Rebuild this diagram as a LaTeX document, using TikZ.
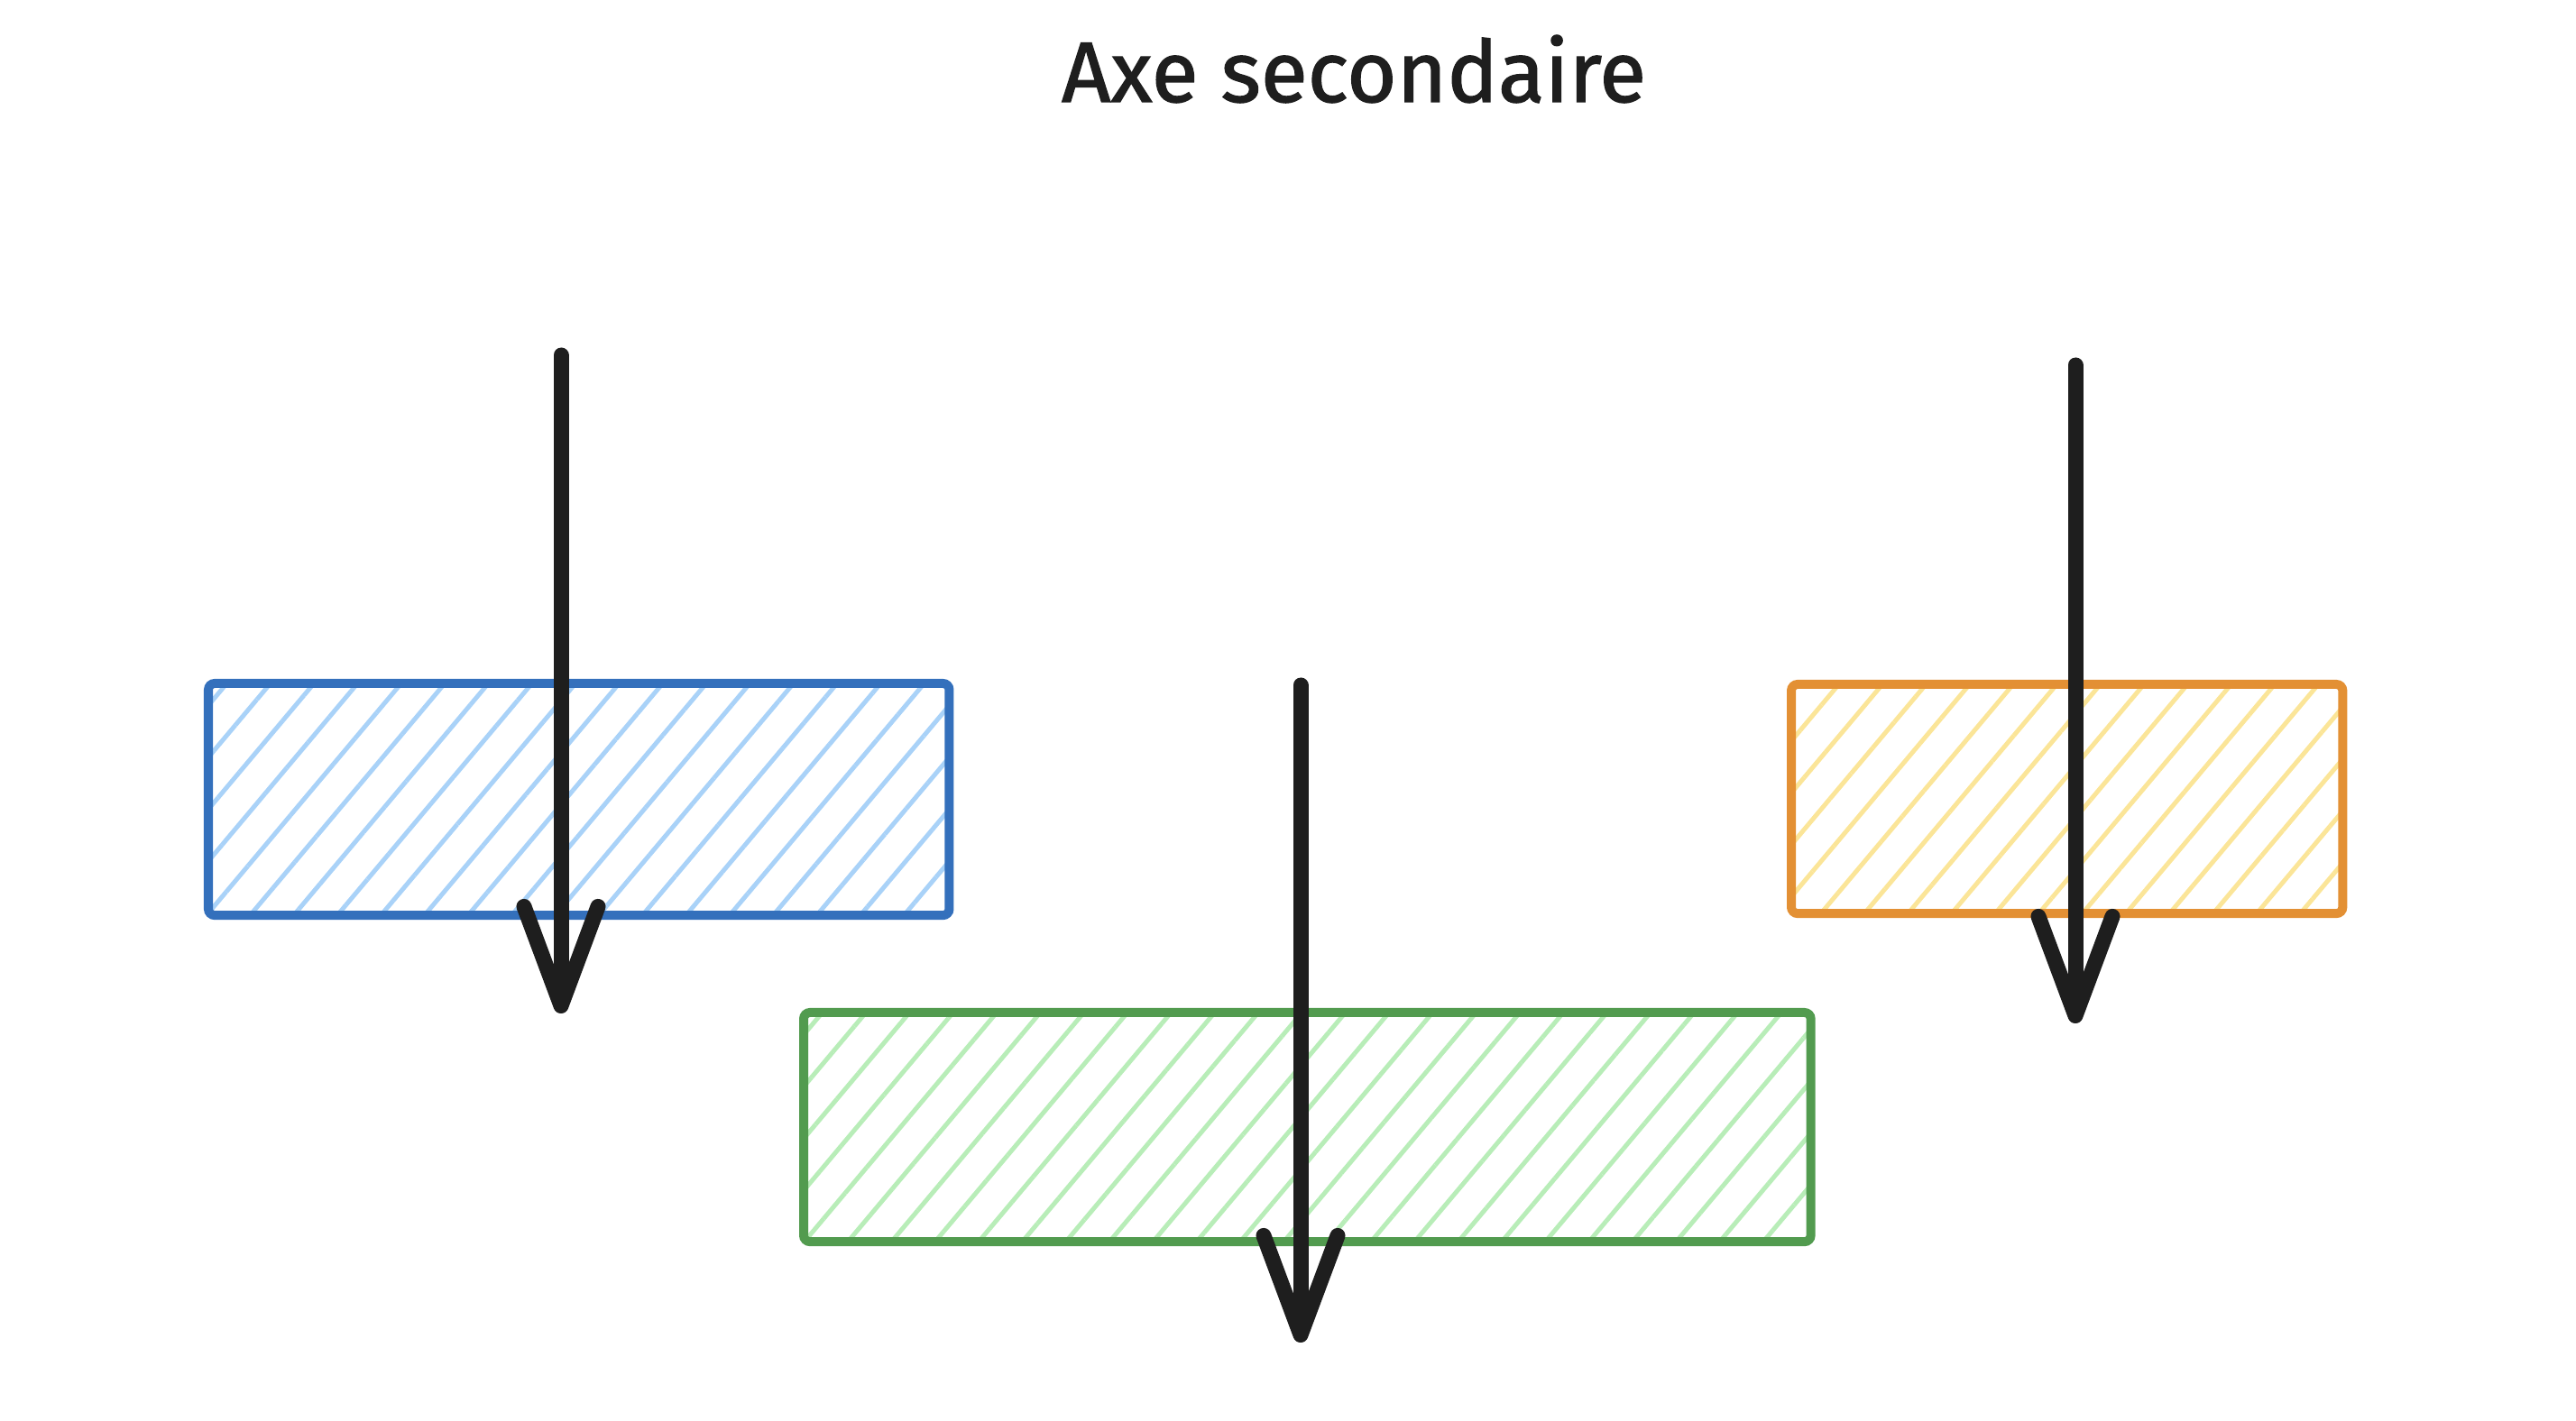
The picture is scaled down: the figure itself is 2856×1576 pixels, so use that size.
\documentclass[tikz,border=0pt]{standalone}
\usepackage{fontspec}
\setmainfont{Fira Sans}
\newfontfamily\titlefont{Fira Sans}[FakeBold=1.4]
\usetikzlibrary{arrows.meta,patterns.meta}
\definecolor{bluestroke}{HTML}{3470BC}
\definecolor{bluehatch}{HTML}{A9D2F8}
\definecolor{greenstroke}{HTML}{529B4F}
\definecolor{greenhatch}{HTML}{B8EDB8}
\definecolor{orangestroke}{HTML}{E39034}
\definecolor{orangehatch}{HTML}{FBE598}
\definecolor{inkblack}{HTML}{1E1E1E}

\begin{document}
\begin{tikzpicture}[x=0.01cm,y=0.01cm,
    plate/.style={draw=#1stroke,line width=0.1cm,rounded corners=2pt,
      pattern={Lines[angle=50,distance=0.37cm,line width=0.05cm]},
      pattern color=#1hatch,anchor=north west,inner sep=0pt,outer sep=0pt},
    axis/.style={draw=inkblack,line width=0.17cm,line cap=round,
      -{Straight Barb[length=1.1cm,width=0.82cm,line cap=round,line join=round]}}]
  \useasboundingbox (0,0) rectangle (2856,1576);
  \node[font=\titlefont\fontsize{27}{32}\selectfont,text=inkblack,anchor=base] (title) at (1501,1463) {Axe secondaire};

  \node[plate=blue,minimum width=8.21cm,minimum height=2.57cm] (bluebox) at (231,818) {};
  \node[plate=green,minimum width=11.16cm,minimum height=2.54cm] (greenbox) at (891,453) {};
  \node[plate=orange,minimum width=6.11cm,minimum height=2.54cm] (orangebox) at (1986,817) {};

  \coordinate (bluetop) at (622,1182);
  \coordinate (bluebottom) at (622,452);
  \coordinate (greentop) at (1442,816);
  \coordinate (greenbottom) at (1442,87);
  \coordinate (orangetop) at (2301,1171);
  \coordinate (orangebottom) at (2301,441);

  \draw[axis] (bluetop) -- (bluebottom);
  \draw[axis] (greentop) -- (greenbottom);
  \draw[axis] (orangetop) -- (orangebottom);
\end{tikzpicture}
\end{document}
